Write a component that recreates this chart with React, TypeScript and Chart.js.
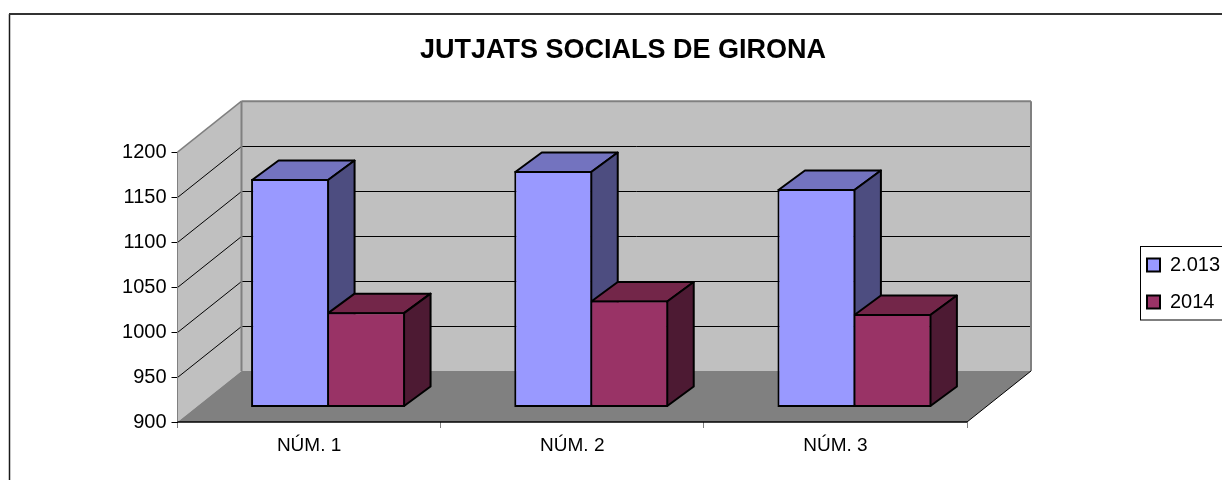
import React, { useEffect, useRef } from "react";
import { Chart, registerables } from "chart.js";

Chart.register(...registerables);

const titleText = "JUTJATS SOCIALS DE GIRONA";
const categories = ["NÚM. 1", "NÚM. 2", "NÚM. 3"];
const series2013 = [1154, 1163, 1143];
const series2014 = [1006, 1019, 1004];
const seriesLabels = ["2.013", "2014"];
const seriesFront = ["#9999FF", "#993366"];
const seriesTop = ["#7373BF", "#732649"];
const seriesSide = ["#4D4D80", "#4D1A33"];
const axisMin = 900;
const axisMax = 1200;
const axisStep = 50;

const FONT = "'Liberation Sans', Arial, sans-serif";
const WALL = { dx: 64, dy: -51 };
const BAR_SHIFT = { dx: 19, dy: -14.5 };
const BAR_DEPTH = { dx: 26.5, dy: -19.5 };

const poly = (ctx: CanvasRenderingContext2D, pts: number[][], fill: string | null, stroke: string | null, lw = 1) => {
  ctx.beginPath();
  pts.forEach(([x, y], i) => (i ? ctx.lineTo(x, y) : ctx.moveTo(x, y)));
  ctx.closePath();
  if (fill) {
    ctx.fillStyle = fill;
    ctx.fill();
  }
  if (stroke) {
    ctx.strokeStyle = stroke;
    ctx.lineWidth = lw;
    ctx.lineJoin = "round";
    ctx.stroke();
  }
};

const line = (ctx: CanvasRenderingContext2D, x1: number, y1: number, x2: number, y2: number, color: string, lw: number) => {
  ctx.beginPath();
  ctx.moveTo(x1, y1);
  ctx.lineTo(x2, y2);
  ctx.strokeStyle = color;
  ctx.lineWidth = lw;
  ctx.stroke();
};

const frame3d = {
  id: "frame3d",
  beforeLayout(chart: any) {
    const legend = chart.legend;
    if (legend && !legend.__patched) {
      const fit = legend.fit.bind(legend);
      legend.fit = () => {
        fit();
        legend.width = 255;
      };
      legend.__patched = true;
    }
  },
  afterLayout(chart: any) {
    const legend = chart.legend;
    legend.left = 1130;
    legend.right = 1222;
    legend.top = 238;
    legend.bottom = 340;
  },
  beforeDraw(chart: any) {
    const { ctx, width, height } = chart;
    ctx.save();
    ctx.fillStyle = "#FFFFFF";
    ctx.fillRect(0, 0, width, height);
    line(ctx, 9.5, 14, 9.5, height, "#1a1a1a", 1.5);
    line(ctx, 9, 14, width, 14, "#333333", 2);
    ctx.restore();
  },
  afterDraw(chart: any) {
    const { ctx } = chart;
    ctx.save();
    ctx.strokeStyle = "#000000";
    ctx.lineWidth = 1;
    ctx.strokeRect(1140.5, 246.5, 90, 73.5);
    ctx.restore();
  },
  beforeDatasetsDraw(chart: any) {
    const { ctx, chartArea: a, scales } = chart;
    const y = scales.y;
    const { dx, dy } = WALL;
    ctx.save();
    poly(ctx, [[a.left, a.top], [a.left + dx, a.top + dy], [a.left + dx, a.bottom + dy], [a.left, a.bottom]], "#C0C0C0", null);
    poly(ctx, [[a.left + dx, a.top + dy], [a.right + dx, a.top + dy], [a.right + dx, a.bottom + dy], [a.left + dx, a.bottom + dy]], "#C0C0C0", null);
    poly(ctx, [[a.left, a.bottom], [a.right, a.bottom], [a.right + dx, a.bottom + dy], [a.left + dx, a.bottom + dy]], "#808080", null);
    y.ticks.forEach((t: any) => {
      if (t.value === y.min || t.value === y.max) return;
      const py = Math.round(y.getPixelForValue(t.value)) + 0.5;
      line(ctx, a.left, py, a.left + dx, py + dy, "#000000", 1);
      line(ctx, a.left + dx, py + dy, a.right + dx, py + dy, "#000000", 1);
    });
    line(ctx, a.left, a.top, a.left + dx, a.top + dy, "#808080", 1.5);
    line(ctx, a.left + dx, a.top + dy, a.right + dx, a.top + dy, "#808080", 2);
    line(ctx, a.left + dx, a.top + dy, a.left + dx, a.bottom + dy, "#808080", 2);
    line(ctx, a.right + dx, a.top + dy, a.right + dx, a.bottom + dy, "#808080", 2);
    line(ctx, a.left, a.top, a.left, a.bottom, "#808080", 1);
    line(ctx, a.right, a.bottom, a.right + dx, a.bottom + dy, "#000000", 1);
    line(ctx, a.left, a.bottom, a.right, a.bottom, "#000000", 1.5);

    ctx.translate(BAR_SHIFT.dx, BAR_SHIFT.dy);
    const d = BAR_DEPTH;
    [0, 1].forEach((di) => {
      chart.getDatasetMeta(di).data.forEach((bar: any) => {
        const l = bar.x - bar.width / 2 + 1;
        const r = bar.x + bar.width / 2 - 1;
        const top = bar.y + 1;
        const base = bar.base - 1;
        poly(ctx, [[l, top], [r, top], [r + d.dx, top + d.dy], [l + d.dx, top + d.dy]], seriesTop[di], "#000000", 2);
        poly(ctx, [[r, top], [r + d.dx, top + d.dy], [r + d.dx, base + d.dy], [r, base]], seriesSide[di], "#000000", 2);
      });
    });
  },
  afterDatasetsDraw(chart: any) {
    chart.ctx.restore();
  },
};

export default function App() {
  const ref = useRef<HTMLCanvasElement>(null);

  useEffect(() => {
    document.body.style.margin = "0";
    const chart = new Chart(ref.current as HTMLCanvasElement, {
      type: "bar",
      data: {
        labels: categories,
        datasets: [
          { label: seriesLabels[0], data: series2013, base: axisMin, backgroundColor: seriesFront[0], borderColor: "#000000", borderWidth: 2, borderSkipped: false },
          { label: seriesLabels[1], data: series2014, base: axisMin, backgroundColor: seriesFront[1], borderColor: "#000000", borderWidth: 2, borderSkipped: false },
        ],
      },
      options: {
        animation: false,
        responsive: false,
        layout: { padding: { left: 24, right: 0, top: 0, bottom: 0 } },
        datasets: { bar: { barPercentage: 1.026, categoryPercentage: 0.5775, clip: false } },
        scales: {
          x: {
            grid: { drawOnChartArea: false, drawTicks: true, tickLength: 6, tickColor: "#808080", offset: true },
            border: { display: false },
            ticks: { color: "#000000", font: { family: FONT, size: 19 }, padding: 6, maxRotation: 0 },
            afterFit(s: any) {
              s.height = 58;
            },
          },
          y: {
            min: axisMin,
            max: axisMax,
            grid: { drawOnChartArea: false, drawTicks: true, tickLength: 6, tickColor: "#000000" },
            border: { display: false },
            ticks: {
              stepSize: axisStep,
              color: "#000000",
              font: { family: FONT, size: 20 },
              padding: 5,
              callback: (v: any) => String(v),
            },
            afterFit(s: any) {
              s.width = 153.5;
            },
          },
        },
        plugins: {
          title: {
            display: true,
            text: titleText,
            color: "#000000",
            font: { family: FONT, size: 27, weight: "bold" },
            padding: { top: 34.5, bottom: 85.3 },
          },
          legend: {
            display: true,
            position: "right",
            align: "start",
            labels: {
              boxWidth: 13,
              boxHeight: 13,
              padding: 17,
              color: "#000000",
              font: { family: FONT, size: 20 },
            },
          },
          tooltip: { enabled: false },
        },
      },
      plugins: [frame3d],
    } as any);
    return () => chart.destroy();
  }, []);

  return <canvas ref={ref} width={1222} height={480} style={{ display: "block" }} />;
}
